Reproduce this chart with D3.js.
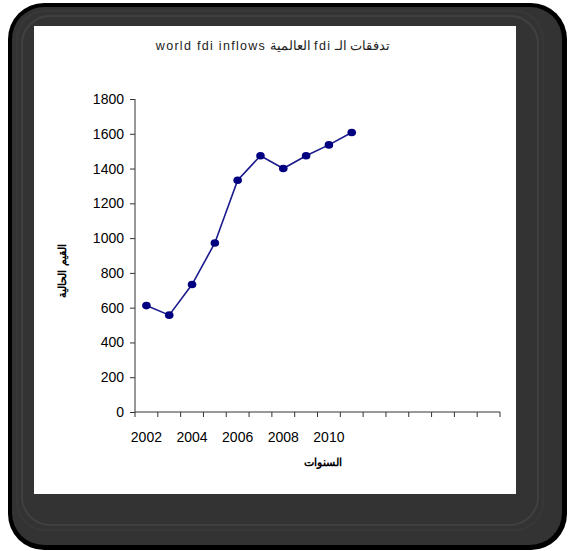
<!DOCTYPE html>
<html><head><meta charset="utf-8">
<script src="https://cdn.jsdelivr.net/npm/d3@7"></script>
<style>html,body{margin:0;padding:0;background:#fff;}svg{display:block;}</style>
</head><body>
<script>
// ---- data ----
const categories = ["2002","2003","2004","2005","2006","2007","2008","2009","2010","2011","2012","2013","2014","2015","2016","2017"];
const years = ["2002","2003","2004","2005","2006","2007","2008","2009","2010","2011"];
const values = [612, 557, 733, 972, 1333, 1474, 1400, 1474, 1536, 1607];
const xTickLabels = ["2002","2004","2006","2008","2010"];
const yTicks = [0,200,400,600,800,1000,1200,1400,1600,1800];
const titleParts = [["تدفقات الـ ", false], ["fdi", true], [" العالمية ", false], ["world fdi inflows", true]];
const yTitle = "القيم الحالية";
const xTitle = "السنوات";

const W = 568, H = 551;
const svg = d3.select("body").append("svg").attr("width", W).attr("height", H);

// ---- frame ----
svg.append("rect").attr("x",8).attr("y",3).attr("width",559).attr("height",547).attr("rx",36).attr("fill","#000");
svg.append("rect").attr("x",12).attr("y",7).attr("width",550).attr("height",538).attr("rx",32).attr("fill","#333");
[["#383838",17,11],["#404040",22,16]].forEach(([c,ix,iy])=>{
  svg.append("rect").attr("x",ix).attr("y",iy).attr("width",W-2*ix-8).attr("height",H-2*iy-10).attr("rx",28)
    .attr("fill","none").attr("stroke",c).attr("stroke-width",2);
});
svg.append("rect").attr("x",34).attr("y",26).attr("width",482).attr("height",468).attr("fill","#fff");

// ---- scales ----
const x = d3.scaleBand().domain(categories).range([135, 500]).padding(0);
const y = d3.scaleLinear().domain([0, 1800]).range([412, 99]);
const axisColor = "#333";
const font = "'Liberation Sans', Arial, sans-serif";

// y axis
const yAxis = d3.axisLeft(y).tickValues(yTicks).tickSize(5).tickPadding(6).tickFormat(d3.format("d"));
const gy = svg.append("g").attr("transform","translate(135,0)").call(yAxis);
gy.select(".domain").attr("stroke",axisColor).attr("d","M0,99V412");
gy.selectAll(".tick line").attr("stroke",axisColor);
gy.selectAll(".tick text").attr("font-family",font).attr("font-size",14).attr("fill","#000");

// x axis (ticks at category boundaries)
const gx = svg.append("g");
gx.append("line").attr("x1",x.range()[0]).attr("x2",x.range()[1]).attr("y1",412).attr("y2",412).attr("stroke",axisColor);
const bounds = categories.map(c => x(c)).concat([x.range()[1]]);
gx.selectAll("line.tk").data(bounds).join("line").attr("class","tk")
  .attr("x1",d=>d).attr("x2",d=>d).attr("y1",412).attr("y2",417).attr("stroke",axisColor);
gx.selectAll("text").data(xTickLabels).join("text")
  .attr("x",d=>x(d)+x.bandwidth()/2).attr("y",442).attr("text-anchor","middle")
  .attr("font-family",font).attr("font-size",14).attr("fill","#000").text(d=>d);

// titles
const t = svg.append("text").attr("x",273).attr("y",50).attr("text-anchor","middle").attr("direction","rtl")
  .style("direction","rtl").style("unicode-bidi","embed")
  .attr("font-family",font).attr("font-size",12.5).attr("fill","#222");
t.selectAll("tspan").data(titleParts).join("tspan")
  .attr("letter-spacing",d=>d[1]?1.3:0).text(d=>d[0]);
svg.append("text").attr("transform","translate(66,271) rotate(-90)").attr("text-anchor","middle")
  .attr("font-family",font).attr("font-size",11).attr("font-weight","bold").attr("fill","#000").text(yTitle);
svg.append("text").attr("x",323).attr("y",466).attr("text-anchor","middle")
  .attr("font-family",font).attr("font-size",11).attr("font-weight","bold").attr("fill","#000").text(xTitle);

// line + markers
const pts = years.map((c,i)=>({c, v: values[i]}));
const line = d3.line().x(d=>x(d.c)+x.bandwidth()/2).y(d=>y(d.v));
svg.append("path").datum(pts).attr("d",line).attr("fill","none").attr("stroke","#1a1a8c").attr("stroke-width",1.6);
svg.selectAll("ellipse.pt").data(pts).join("ellipse").attr("class","pt")
  .attr("cx",d=>x(d.c)+x.bandwidth()/2).attr("cy",d=>y(d.v)).attr("rx",4.3).attr("ry",3.8)
  .attr("fill","#000080");
</script>
</body></html>
